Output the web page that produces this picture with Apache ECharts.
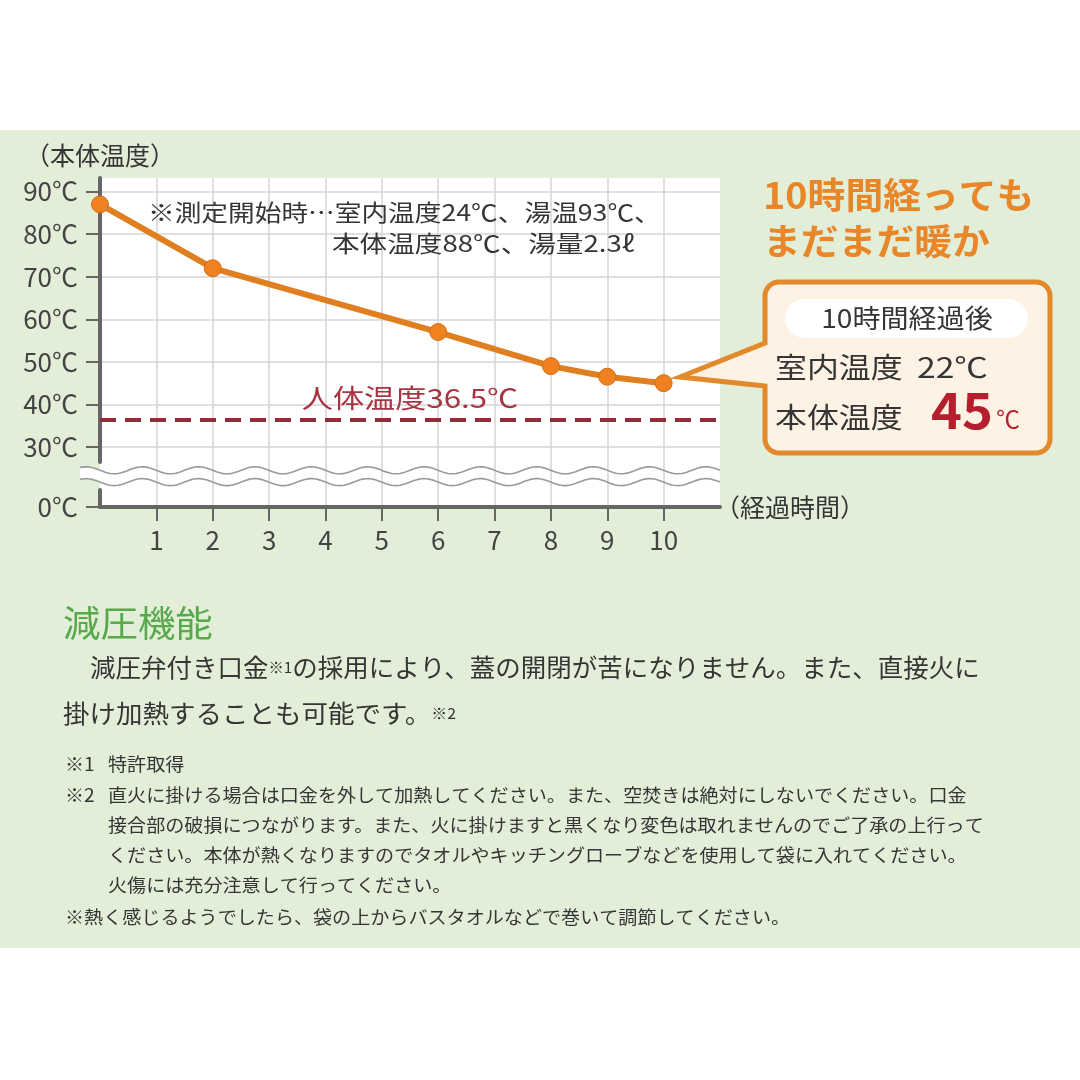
<!DOCTYPE html>
<html><head><meta charset="utf-8">
<script src="https://cdn.jsdelivr.net/npm/echarts@6/dist/echarts.min.js"></script>
<style>
html,body{margin:0;padding:0;width:1080px;height:1080px;overflow:hidden;
background:linear-gradient(to bottom,#ffffff 0px,#ffffff 130px,#e3eed8 130px,#e3eed8 948px,#ffffff 948px);}
#c{width:1080px;height:1080px;}
</style></head><body><div id="c"></div>
<script>
// ---- data ----
const hours = [0, 2, 6, 8, 9, 10];
const bodyTemp = [87, 72, 57, 49, 46.5, 45];
const humanTemp = 36.5;
const xTickValues = [1, 2, 3, 4, 5, 6, 7, 8, 9, 10];
const yTickValues = [0, 30, 40, 50, 60, 70, 80, 90];
const yBreakStart = 4, yBreakEnd = 26.5, yBreakGap = 6.6;
const yMax = 93.2, xMax = 11;

const FF = '"Noto Sans CJK JP","Noto Sans",sans-serif';
const chart = echarts.init(document.getElementById('c'), null, {renderer: 'canvas'});

function txt(id, text, x, y, size, color, o) {
  o = o || {};
  return {
    type: 'text', id: id, x: x, y: y, z: 100, silent: true,
    scaleX: o.sx || 1, scaleY: 1,
    style: {
      text: text, fill: color, fontSize: size, fontFamily: FF,
      fontWeight: o.w || 'normal',
      textAlign: o.align || 'left', align: o.align || 'left',
      textVerticalAlign: 'middle', verticalAlign: 'middle',
      rich: o.rich
    }
  };
}

// rounded box outline with a left-pointing pointer (layout only)
function calloutPoints(l, t, r, b, rad, py1, tipX, tipY, py2) {
  const pts = [];
  const arc = (cx, cy, a0, a1) => { for (let i = 0; i <= 8; i++) { const a = a0 + (a1 - a0) * i / 8; pts.push([cx + rad * Math.cos(a), cy + rad * Math.sin(a)]); } };
  arc(l + rad, t + rad, Math.PI, 1.5 * Math.PI);
  arc(r - rad, t + rad, 1.5 * Math.PI, 2 * Math.PI);
  arc(r - rad, b - rad, 0, 0.5 * Math.PI);
  arc(l + rad, b - rad, 0.5 * Math.PI, Math.PI);
  pts.push([l, py2], [tipX, tipY], [l, py1]);
  return pts;
}

const DARK = '#353535';
const FN = 1.06;
const graphics = [
  {type: 'polygon', id: 'callout', z: 50, silent: true,
   shape: {points: calloutPoints(765, 282, 1050, 453, 14, 343, 680, 377, 386)},
   style: {fill: '#fdf2e3', stroke: '#e2892c', lineWidth: 5, lineJoin: 'miter'}},
  {type: 'rect', id: 'pill', z: 60, silent: true,
   shape: {x: 785, y: 299, width: 243, height: 39, r: 19.5}, style: {fill: '#ffffff'}},
  txt('c1', '10時間経過後', 907, 318, 26, DARK, {align: 'center', sx: 1.08}),
  txt('c2', '室内温度', 775, 367, 28, DARK, {sx: 1.14}),
  txt('c3', '22℃', 917, 367, 28, DARK, {sx: 1.2}),
  txt('c4', '本体温度', 775, 417, 28, DARK, {sx: 1.14}),
  txt('c5', '45', 931, 410, 50, '#b61d2d', {w: 'bold', sx: 1.05}),
  txt('c6', '℃', 996, 419, 24, '#b61d2d'),
  txt('h1', '10時間経っても', 763, 195, 36, '#e8862a', {w: 'bold', sx: 1.05}),
  txt('h2', 'まだまだ暖か', 763, 241, 36, '#e8862a', {w: 'bold', sx: 1.05}),
  txt('n1', '※測定開始時…室内温度24℃、湯温93℃、', 148, 212, 23, DARK, {sx: 1.16}),
  txt('n2', '本体温度88℃、湯量2.3ℓ', 332, 243, 23, DARK, {sx: 1.2}),
  txt('t0', '減圧機能', 63, 623, 36, '#58a94b', {sx: 1.04}),
  txt('t1', '減圧弁付き口金{s|※1}の採用により、蓋の開閉が苦になりません。また、直接火に', 90, 667, 25, DARK,
      {sx: 1.02, rich: {s: {fontSize: 15, fill: DARK, fontFamily: FF}}}),
  txt('t2', '掛け加熱することも可能です。{s|※2}', 63, 713, 25, DARK,
      {sx: 1.06, rich: {s: {fontSize: 15, fill: DARK, fontFamily: FF}}}),
  txt('f1a', '※1', 65, 764, 18, DARK, {sx: FN}),
  txt('f1b', '特許取得', 108, 764, 18, DARK, {sx: FN}),
  txt('f2a', '※2', 65, 795, 18, DARK, {sx: FN}),
  txt('f2b', '直火に掛ける場合は口金を外して加熱してください。また、空焚きは絶対にしないでください。口金', 108, 795, 18, DARK, {sx: FN}),
  txt('f3', '接合部の破損につながります。また、火に掛けますと黒くなり変色は取れませんのでご了承の上行って', 108, 825, 18, DARK, {sx: FN}),
  txt('f4', 'ください。本体が熱くなりますのでタオルやキッチングローブなどを使用して袋に入れてください。', 108, 855, 18, DARK, {sx: FN}),
  txt('f5', '火傷には充分注意して行ってください。', 108, 885, 18, DARK, {sx: FN}),
  txt('f6', '※熱く感じるようでしたら、袋の上からバスタオルなどで巻いて調節してください。', 65, 917, 18, DARK, {sx: FN})
];

const option = {
  animation: false,
  textStyle: {fontFamily: FF},
  grid: {left: 100, right: 360, top: 178, bottom: 573, show: true, backgroundColor: '#ffffff', borderWidth: 0},
  xAxis: {
    type: 'value', min: 0, max: xMax, interval: 1,
    name: '（経過時間）', nameLocation: 'end', nameGap: -5,
    nameTextStyle: {fontSize: 25, color: DARK, fontFamily: FF},
    axisLine: {onZero: false, lineStyle: {color: '#666', width: 4}},
    axisTick: {show: true, length: 14, lineStyle: {color: '#666', width: 2}, customValues: xTickValues},
    axisLabel: {customValues: xTickValues, margin: 20, fontSize: 26, color: '#444', fontFamily: FF},
    splitLine: {show: true, lineStyle: {color: '#d4d4d4', width: 1.5}}
  },
  yAxis: {
    type: 'value', min: 0, max: yMax, interval: 10,
    breaks: [{start: yBreakStart, end: yBreakEnd, gap: yBreakGap}],
    breakArea: {show: false},
    name: '（本体温度）', nameLocation: 'end', nameGap: 10,
    nameTextStyle: {fontSize: 25, color: DARK, fontFamily: FF, align: 'center'},
    axisLine: {show: true, onZero: false, lineStyle: {color: '#666', width: 4}},
    axisTick: {show: true, length: 14, lineStyle: {color: '#666', width: 2}, customValues: yTickValues},
    axisLabel: {customValues: yTickValues, formatter: v => v + '℃', margin: 22, fontSize: 26, color: '#444', fontFamily: FF},
    splitLine: {show: true, lineStyle: {color: '#d4d4d4', width: 1.5}}
  },
  series: [
    {
      type: 'custom', coordinateSystem: 'cartesian2d', silent: true, clip: false, z: 5,
      data: [[0, yBreakStart]],
      renderItem: function (params, api) {
        const cs = params.coordSys;
        const yTop = api.coord([0, yBreakEnd])[1];
        const yBot = api.coord([0, yBreakStart])[1];
        const period = api.size([1, 0])[0];
        const amp = 3.5;
        const x0 = cs.x - 20, x1 = cs.x + cs.width;
        const c1 = yTop + (yBot - yTop) * 0.3, c2 = yTop + (yBot - yTop) * 0.72;
        const wave = (c, a, b) => { const p = []; for (let x = a; x <= b + 0.01; x += 2) p.push([x, c + amp * Math.sin((x - cs.x) / period * 2 * Math.PI)]); return p; };
        const fillPts = wave(c1, x0, cs.x + 4).concat(wave(c2, x0, cs.x + 4).reverse());
        return {type: 'group', children: [
          {type: 'polygon', shape: {points: fillPts}, style: {fill: '#ffffff'}},
          {type: 'polyline', shape: {points: wave(c1, x0, x1)}, style: {stroke: '#9a9a9a', lineWidth: 1.6, fill: null}},
          {type: 'polyline', shape: {points: wave(c2, x0, x1)}, style: {stroke: '#9a9a9a', lineWidth: 1.6, fill: null}}
        ]};
      }
    },
    {
      type: 'line', z: 10,
      data: hours.map((h, i) => [h, bodyTemp[i]]),
      symbol: 'circle', symbolSize: 17,
      lineStyle: {color: '#e07f20', width: 6},
      itemStyle: {color: '#ef8120', borderColor: '#d2701a', borderWidth: 1},
      markLine: {
        silent: true, symbol: ['none', 'none'], label: {show: false},
        lineStyle: {type: [16, 9], color: '#952a38', width: 4},
        data: [{yAxis: humanTemp}]
      }
    }
  ],
  graphic: graphics
};
chart.setOption(option);

const p = chart.convertToPixel({xAxisIndex: 0, yAxisIndex: 0}, [xMax / 2, humanTemp]);
chart.setOption({graphic: [txt('hl', '人体温度36.5℃', p[0], p[1] - 21, 26, '#a83442', {align: 'center', sx: 1.2})]});
</script></body></html>
